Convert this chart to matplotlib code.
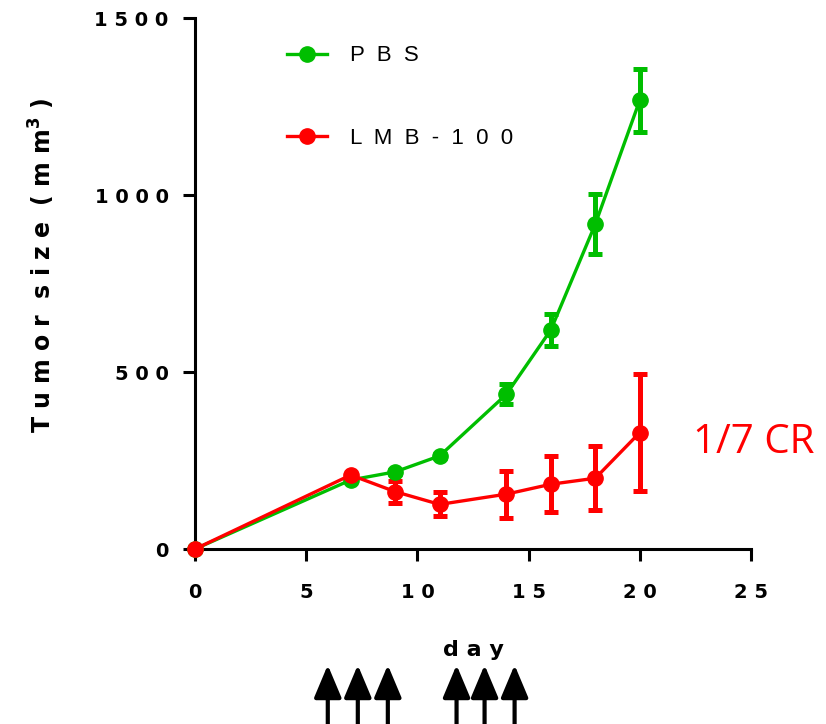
import matplotlib
matplotlib.use('Agg')
import matplotlib.pyplot as plt
import matplotlib.transforms as mtransforms
from matplotlib.lines import Line2D

plt.rcParams['font.family'] = ['DejaVu Sans']
plt.rcParams['mathtext.fontset'] = 'custom'
plt.rcParams['mathtext.rm'] = 'DejaVu Sans:bold'
plt.rcParams['mathtext.bf'] = 'DejaVu Sans:bold'

# ----- Data -----
days = [0, 7, 9, 11, 14, 16, 18, 20]
pbs_mean = [0, 195, 218, 263, 437, 619, 918, 1268]
pbs_err = [0, 4, 5, 5, 28, 45, 86, 89]
lmb_mean = [0, 209, 162, 126, 155, 183, 200, 329]
lmb_err = [0, 4, 31, 34, 66, 79, 91, 166]
series_labels = ['P  B  S', 'L  M  B  -  1  0  0']
treatment_days = [5.97, 7.32, 8.67, 11.76, 13.02, 14.37]

x_ticks = [0, 5, 10, 15, 20, 25]
y_ticks = [0, 500, 1000, 1500]

GREEN = '#00BE00'
RED = '#FF0000'


def spaced(s):
    return ' '.join(s)


# ----- Figure -----
fig = plt.figure(figsize=(8.26, 7.24), dpi=100)
ax = fig.add_axes([0.2361, 0.2417, 0.6731, 0.7334])

handles = []
for mean, err, color in [(pbs_mean, pbs_err, GREEN), (lmb_mean, lmb_err, RED)]:
    ax.errorbar(days, mean, yerr=err, color=color, lw=2.4, marker='o',
                markersize=11, elinewidth=3.6, capsize=5, capthick=3.6,
                clip_on=False, zorder=3)
    handles.append(Line2D([], [], color=color, lw=2.4, marker='o', markersize=11))

ax.set_xlim(0, 25)
ax.set_ylim(0, 1500)
ax.set_xticks(x_ticks)
ax.set_xticklabels([spaced(str(t)) for t in x_ticks])
ax.set_yticks(y_ticks)
ax.set_yticklabels([spaced(str(t)) for t in y_ticks])

for side in ['top', 'right']:
    ax.spines[side].set_visible(False)
for side in ['left', 'bottom']:
    ax.spines[side].set_linewidth(2.2)

ax.tick_params(axis='both', direction='out', length=8.5, width=2.2,
               labelsize=14)
ax.tick_params(axis='x', pad=16)
ax.tick_params(axis='y', pad=10.5)
for lab in ax.get_xticklabels() + ax.get_yticklabels():
    lab.set_fontweight('bold')

ax.set_ylabel('T u m o r  s i z e  ( m m$^{3}$ )',
              fontsize=17, fontweight='bold', va='center')
ax.yaxis.set_label_coords(-0.275, 0.535)
ax.set_xlabel(spaced('day'), fontsize=16, fontweight='bold')
ax.xaxis.set_label_coords(0.5, -0.172)

ax.legend(handles, series_labels, loc='upper left',
          bbox_to_anchor=(0.129, 0.986), frameon=False,
          prop={'family': 'Liberation Sans', 'size': 16},
          handlelength=1.8, handletextpad=1.04, labelspacing=2.75)

ax.text(22.4, 300, '1/7 CR', color=RED, fontsize=29, family='Open Sans',
        ha='left', va='center', clip_on=False)

# treatment arrows below the axis
trans = mtransforms.blended_transform_factory(ax.transData, fig.transFigure)
for d in treatment_days:
    ax.annotate('', xy=(d, 0.0815), xytext=(d, -0.02), xycoords=trans,
                textcoords=trans,
                arrowprops=dict(arrowstyle='-|>,head_length=1.0,head_width=0.42',
                                mutation_scale=20, lw=3, color='black',
                                shrinkA=0, shrinkB=0), annotation_clip=False)

fig.savefig('out.png', dpi=100)
